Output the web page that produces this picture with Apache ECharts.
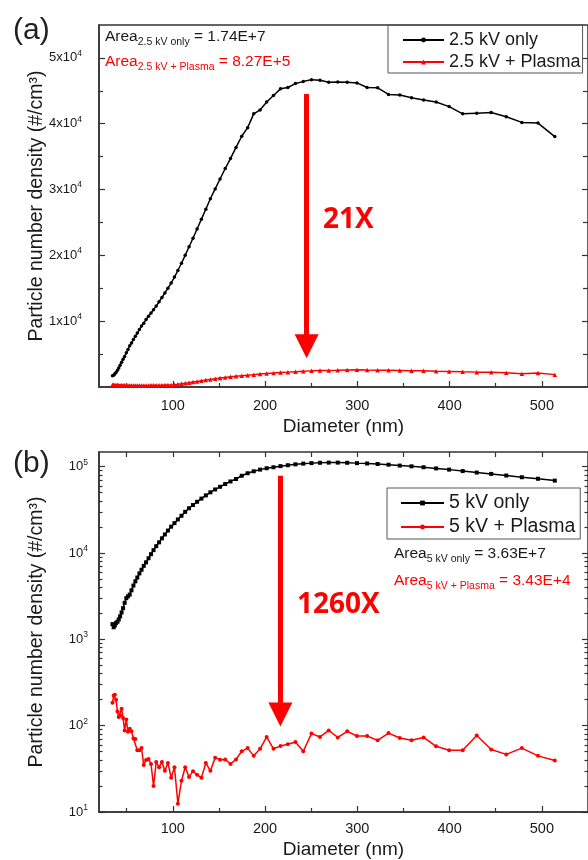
<!DOCTYPE html>
<html>
<head>
<meta charset="utf-8">
<script src="https://cdn.jsdelivr.net/npm/echarts@6/dist/echarts.min.js"></script>
<style>
  html, body { margin: 0; padding: 0; background: #fff; }
  #chart { width: 588px; height: 860px; }
</style>
</head>
<body>
<div id="chart"></div>
<script>
// SMPS size bins (nm)
const diameters = [34.6, 35.9, 37.2, 38.5, 40.0, 41.4, 42.9, 44.5, 46.1, 47.8, 49.6, 51.4, 53.3, 55.2, 57.3, 59.4,
  61.5, 63.8, 66.1, 68.5, 71.0, 73.7, 76.4, 79.1, 82.0, 85.1, 88.2, 91.4, 94.7, 98.2, 101.8, 105.5, 109.4, 113.4,
  117.6, 121.9, 126.3, 131.0, 135.8, 140.7, 145.9, 151.2, 156.8, 162.5, 168.5, 174.7, 181.1, 187.7, 194.6, 201.7,
  209.1, 216.7, 224.7, 232.9, 241.4, 250.3, 259.5, 269.0, 278.8, 289.0, 299.6, 310.6, 322.0, 333.8, 346.0, 358.7,
  371.8, 385.4, 399.5, 414.2, 429.4, 445.1, 461.4, 478.3, 495.8, 514.0];

// (a) 2.5 kV
const only25 = [1700, 1800, 2000, 2200, 2550, 2900, 3300, 3750, 4200, 4650, 5200, 5700, 6250, 6700, 7200, 7700,
  8200, 8750, 9250, 9700, 10250, 10750, 11250, 11750, 12300, 12950, 13600, 14300, 15000, 15800, 16700, 17700, 18800, 20000,
  21300, 22600, 24000, 25500, 27000, 28600, 30100, 31600, 33200, 34700, 36400, 38100, 39400, 41500, 42100, 43300,
  44300, 45300, 45500, 46100, 46400, 46700, 46600, 46300, 46350, 46300, 46200, 45500, 45450, 44450, 44350, 43950,
  43600, 43300, 42600, 41500, 41600, 41700, 41050, 40200, 40100, 38050];
const plasma25 = [350, 330, 310, 300, 290, 280, 270, 260, 250, 250, 240, 240, 230, 230, 230, 230,
  230, 230, 230, 240, 240, 240, 250, 250, 260, 270, 280, 290, 300, 320, 360, 420, 490, 570,
  660, 750, 850, 950, 1050, 1150, 1250, 1350, 1450, 1540, 1630, 1720, 1800, 1880, 1960, 2040,
  2110, 2190, 2260, 2330, 2400, 2450, 2490, 2520, 2550, 2600, 2620, 2580, 2560, 2540, 2500, 2450,
  2480, 2400, 2350, 2300, 2260, 2230, 2150, 2000, 2120, 1880];

// (b) 5 kV
const only5 = [1500, 1380, 1450, 1550, 1600, 1700, 1850, 2050, 2300, 2650, 3000, 3150, 3300, 3700, 4200, 4700,
  5200, 5800, 6400, 7100, 7800, 8700, 9700, 10800, 12000, 13300, 14800, 16400, 18200, 20200, 22200, 24500, 27000, 30000,
  33000, 36000, 39200, 42700, 46500, 50500, 54500, 58500, 63000, 67500, 72000, 78500, 84000, 88500, 92500, 96000,
  98500, 101500, 104000, 106500, 108500, 110000, 111000, 111500, 111500, 111000, 110000, 109000, 107500, 105500, 103000, 101000,
  98500, 95500, 92500, 89000, 85500, 82500, 79000, 75500, 72500, 69000];
const plasma5 = [184, 224, 228, 200, 146, 126, 131, 157, 123, 88, 118, 85, 92, 86, 71, 70,
  52, 52, 55, 35, 40, 41, 36, 20, 38, 33, 38, 30, 37, 25, 33, 12.5, 23, 33,
  25.5, 29.7, 27, 25, 37, 30, 42.6, 40.4, 40.7, 36, 40.7, 50.5, 55, 44.7, 54, 74,
  54, 58, 60.8, 64.7, 50.5, 81, 74, 88, 73, 86, 76, 76, 67.6, 82, 72, 67.6,
  73, 57.7, 51.9, 51.9, 77, 53, 46.5, 55, 44.7, 39.4];

const xMajor = [100, 200, 300, 400, 500];
const xMinor = [50, 150, 250, 350, 450];
const xTopTicks = [50, 100, 150, 200, 250, 300, 350, 400, 450, 500];
const yMajorA = [10000, 20000, 30000, 40000, 50000];
const yMinorA = [5000, 15000, 25000, 35000, 45000];
const yMajorB = [10, 100, 1000, 10000, 100000];
const yMinorB = [20, 30, 40, 50, 60, 70, 80, 90, 200, 300, 400, 500, 600, 700, 800, 900,
  2000, 3000, 4000, 5000, 6000, 7000, 8000, 9000, 20000, 30000, 40000, 50000, 60000, 70000, 80000, 90000];

const FONT = "Liberation Sans";
const RED = "#ff0000";
const AXIS = "#333";

function pairs(ys) {
  return diameters.map((d, i) => [d, ys[i]]);
}

const supRich = {
  n: { fontSize: 13, lineHeight: 18, fontFamily: FONT, color: "#1a1a1a" },
  s: { fontSize: 8.5, lineHeight: 9, verticalAlign: "top", fontFamily: FONT, color: "#1a1a1a" },
};

function xAxisMain(grid, margin, gap) {
  return {
    gridIndex: grid, type: "value", min: 20, max: 550, position: "bottom",
    axisLine: { show: true, lineStyle: { color: AXIS, width: 1.5 } },
    axisTick: { show: true, inside: true, length: 6, customValues: xMajor, lineStyle: { color: AXIS, width: 1.2 } },
    axisLabel: { customValues: xMajor, fontSize: 14.5, margin: margin, color: "#1a1a1a", fontFamily: FONT },
    splitLine: { show: false },
    name: "Diameter (nm)", nameLocation: "middle", nameGap: gap, nameMoveOverlap: false,
    nameTextStyle: { fontSize: 19, color: "#1a1a1a", fontFamily: FONT },
  };
}
function tickAxis(grid, pos, type, min, max, ticks, len) {
  return {
    gridIndex: grid, type: type, min: min, max: max, position: pos,
    axisLine: { show: false },
    axisTick: { show: true, inside: true, length: len, customValues: ticks, lineStyle: { color: AXIS, width: 1.2 } },
    axisLabel: { show: false },
    splitLine: { show: false },
  };
}
function arrow(x, yFrom, yTo) {
  return {
    silent: true, symbol: ["none", "triangle"], symbolSize: 24,
    label: { show: false }, lineStyle: { color: RED, width: 5, type: "solid", opacity: 1 },
    itemStyle: { color: RED },
    emphasis: { disabled: true },
    data: [[{ coord: [x, yFrom] }, { coord: [x, yTo] }]],
  };
}

const option = {
  backgroundColor: "#fff",
  animation: false,
  grid: [
    { left: 99, top: 25, width: 490, height: 362, show: true, borderColor: AXIS, borderWidth: 1.5 },
    { left: 99, top: 452, width: 490, height: 361, show: true, borderColor: AXIS, borderWidth: 1.5 },
  ],
  xAxis: [
    xAxisMain(0, 11, 30),
    tickAxis(0, "bottom", "value", 20, 550, xMinor, 4),
    xAxisMain(1, 9.5, 28),
    tickAxis(1, "bottom", "value", 20, 550, xMinor, 4),
    tickAxis(1, "top", "value", 20, 550, xTopTicks, 5),
  ],
  yAxis: [
    {
      gridIndex: 0, type: "value", min: 0, max: 55000, position: "left",
      axisLine: { show: true, lineStyle: { color: AXIS, width: 1.5 } },
      axisTick: { show: true, inside: true, length: 6, customValues: yMajorA, lineStyle: { color: AXIS, width: 1.2 } },
      axisLabel: {
        customValues: yMajorA, margin: 17,
        formatter: (v) => "{n|" + v / 10000 + "x10}{s|4}",
        rich: supRich,
      },
      splitLine: { show: false },
      name: "Particle number density (#/cm³)", nameLocation: "middle", nameGap: 52, nameMoveOverlap: false,
      nameTextStyle: { fontSize: 19.5, color: "#1a1a1a", fontFamily: FONT },
    },
    tickAxis(0, "left", "value", 0, 55000, yMinorA, 4),
    tickAxis(0, "right", "value", 0, 55000, yMajorA, 6),
    tickAxis(0, "right", "value", 0, 55000, yMinorA, 5),
    {
      gridIndex: 1, type: "log", logBase: 10, min: 10, max: 148000, position: "left",
      axisLine: { show: true, lineStyle: { color: AXIS, width: 1.5 } },
      axisTick: { show: true, inside: true, length: 6, customValues: yMajorB, lineStyle: { color: AXIS, width: 1.2 } },
      axisLabel: {
        customValues: yMajorB, margin: 11,
        formatter: (v) => "{n|10}{s|" + Math.round(Math.log10(v)) + "}",
        rich: supRich,
      },
      splitLine: { show: false },
      name: "Particle number density (#/cm³)", nameLocation: "middle", nameGap: 52, nameMoveOverlap: false,
      nameTextStyle: { fontSize: 19.5, color: "#1a1a1a", fontFamily: FONT },
    },
    tickAxis(1, "left", "log", 10, 148000, yMinorB, 3.5),
    tickAxis(1, "right", "log", 10, 148000, yMajorB, 6),
    tickAxis(1, "right", "log", 10, 148000, yMinorB, 3.5),
  ],
  legend: [
    {
      data: ["2.5 kV only", "2.5 kV + Plasma"],
      orient: "vertical", left: 388, top: 25, selectedMode: false,
      padding: [6, 2, 2, 14], itemGap: 4, itemWidth: 41, itemHeight: 6,
      borderColor: "#555", borderWidth: 1,
      textStyle: { fontSize: 18, lineHeight: 18, color: "#1a1a1a", fontFamily: FONT },
    },
    {
      data: ["5 kV only", "5 kV + Plasma"],
      orient: "vertical", left: 387, top: 488, selectedMode: false,
      padding: [5, 5, 2, 13], itemGap: 4, itemWidth: 43, itemHeight: 6,
      borderColor: "#555", borderWidth: 1,
      textStyle: { fontSize: 19.5, lineHeight: 19, color: "#1a1a1a", fontFamily: FONT },
    },
  ],
  series: [
    {
      name: "2.5 kV only", type: "line", xAxisIndex: 0, yAxisIndex: 0,
      data: pairs(only25), symbol: "circle", symbolSize: 3.5,
      lineStyle: { color: "#000", width: 1.5 }, itemStyle: { color: "#000" },
    },
    {
      name: "2.5 kV + Plasma", type: "line", xAxisIndex: 0, yAxisIndex: 0,
      data: pairs(plasma25), symbol: "triangle", symbolSize: 4.5,
      lineStyle: { color: RED, width: 1.5 }, itemStyle: { color: RED },
      markLine: arrow(245, 44500, 6200),
    },
    {
      name: "5 kV only", type: "line", xAxisIndex: 2, yAxisIndex: 4,
      data: pairs(only5), symbol: "rect", symbolSize: 4,
      lineStyle: { color: "#000", width: 1.5 }, itemStyle: { color: "#000" },
    },
    {
      name: "5 kV + Plasma", type: "line", xAxisIndex: 2, yAxisIndex: 4,
      data: pairs(plasma5), symbol: "circle", symbolSize: 4,
      lineStyle: { color: RED, width: 1.5 }, itemStyle: { color: RED },
      markLine: arrow(216.6, 78700, 135),
    },
  ],
  graphic: [
    { type: "text", x: 13, y: 31, style: { text: "(a)", fontSize: 30, fontFamily: FONT, fill: "#222", verticalAlign: "middle" } },
    { type: "text", x: 13, y: 464, style: { text: "(b)", fontSize: 30, fontFamily: FONT, fill: "#222", verticalAlign: "middle" } },
    { type: "text", x: 323, y: 220, style: { text: "21X", fontSize: 28, fontWeight: "bold", fontFamily: "Open Sans", fill: RED, verticalAlign: "middle" } },
    { type: "text", x: 297, y: 605, style: { text: "1260X", fontSize: 28, fontWeight: "bold", fontFamily: "Open Sans", fill: RED, verticalAlign: "middle" } },
  ],
};

function areaText(x, y, sub, val, color) {
  return {
    type: "text", x: x, y: y,
    style: {
      text: "{m|Area}{s|" + sub + "}{m| = " + val + "}",
      verticalAlign: "middle",
      fill: color,
      rich: {
        m: { fontSize: 15.5, lineHeight: 22, fontFamily: FONT, fill: color },
        s: { fontSize: 10.5, lineHeight: 10, verticalAlign: "bottom", fontFamily: FONT, fill: color },
      },
    },
  };
}
option.graphic.push(
  areaText(105, 37, "2.5 kV only", "1.74E+7", "#1a1a1a"),
  areaText(105, 62, "2.5 kV + Plasma", "8.27E+5", RED),
  areaText(394, 554, "5 kV only", "3.63E+7", "#1a1a1a"),
  areaText(394, 581, "5 kV + Plasma", "3.43E+4", RED)
);

const myChart = echarts.init(document.getElementById("chart"), null, { renderer: "canvas" });
myChart.setOption(option);
</script>
</body>
</html>
